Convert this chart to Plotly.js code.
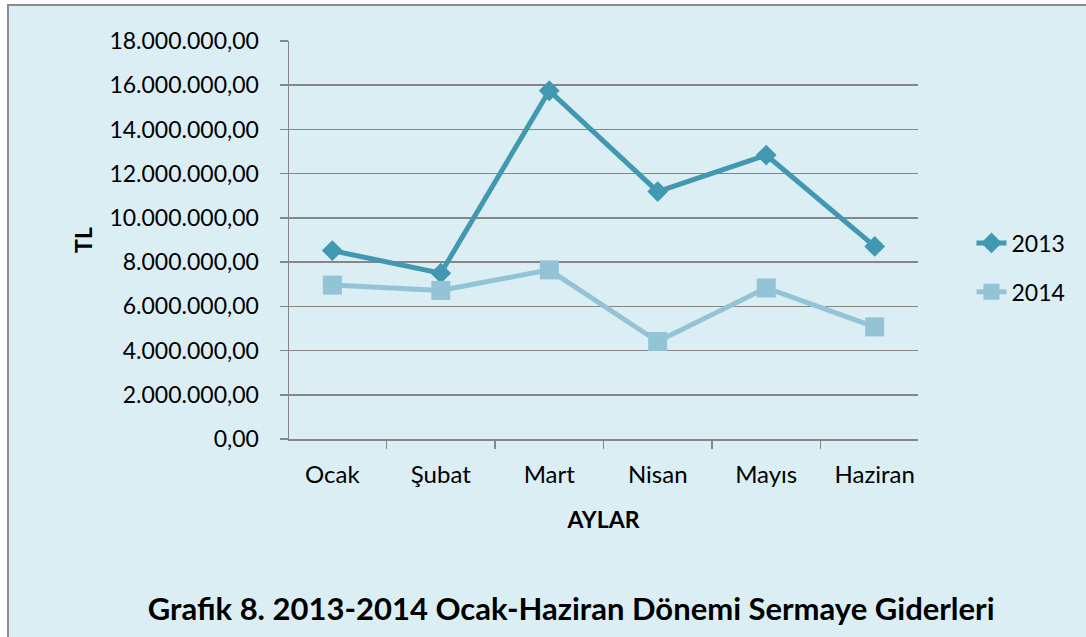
<!DOCTYPE html>
<html>
<head>
<meta charset="utf-8">
<script src="https://cdn.plot.ly/plotly-3.0.1.min.js"></script>
<style>
  html, body { margin: 0; padding: 0; background: #ffffff; width: 1086px; height: 637px; overflow: hidden; }
  #wrap { position: absolute; left: 7px; top: 4px; border-left: 2px solid #8c8c8c; border-top: 2px solid #8c8c8c; }
  #chart { width: 1077px; height: 631px; }
</style>
</head>
<body>
<div id="wrap"><div id="chart"></div></div>
<script>
const months = ["Ocak", "Şubat", "Mart", "Nisan", "Mayıs", "Haziran"];
const values2013 = [8520000, 7500000, 15750000, 11190000, 12840000, 8710000];
const values2014 = [6960000, 6720000, 7650000, 4410000, 6830000, 5070000];
const yTickVals = [0, 2000000, 4000000, 6000000, 8000000, 10000000, 12000000, 14000000, 16000000, 18000000];
const yTickText = ["0,00", "2.000.000,00", "4.000.000,00", "6.000.000,00", "8.000.000,00", "10.000.000,00", "12.000.000,00", "14.000.000,00", "16.000.000,00", "18.000.000,00"];

const FONT = "Lato, 'Open Sans', sans-serif";

const traces = [
  {
    x: months, y: values2013, name: "2013", type: "scatter", mode: "lines+markers",
    line: { color: "#4298B0", width: 5 },
    marker: { symbol: "diamond", size: 16, color: "#4298B0" },
    legendgroup: "a"
  },
  {
    x: months, y: values2014, name: "2014", type: "scatter", mode: "lines+markers",
    line: { color: "#93C4D5", width: 5 },
    marker: { symbol: "square", size: 19, color: "#93C4D5" },
    legendgroup: "b"
  }
];

const layout = {
  width: 1077, height: 631,
  margin: { l: 280, r: 168, t: 35, b: 198 },
  paper_bgcolor: "#DBEEF4",
  plot_bgcolor: "#DBEEF4",
  font: { family: FONT, size: 23, color: "#000000" },
  showlegend: true,
  legend: {
    x: 1.085, xanchor: "left", y: 0.431, yanchor: "middle",
    bgcolor: "rgba(0,0,0,0)", font: { family: FONT, size: 23 },
    traceorder: "grouped", tracegroupgap: 16
  },
  title: {
    text: "<b>Grafik 8. 2013-2014 Ocak-Haziran Dönemi Sermaye Giderleri</b>",
    font: { family: FONT, size: 31, color: "#000000" },
    xref: "container", yref: "container",
    x: 0.522, xanchor: "center", y: 0.044, yanchor: "middle"
  },
  xaxis: {
    type: "category",
    tickson: "boundaries",
    ticks: "outside", ticklen: 8, tickcolor: "#868686", tickwidth: 1.5,
    showline: true, linecolor: "#868686", linewidth: 1.5,
    showgrid: false, zeroline: false,
    tickfont: { family: FONT, size: 24 },
    ticklabelstandoff: 14,
    title: { text: "<b>AYLAR</b>", font: { family: FONT, size: 23 }, standoff: 24 },
    fixedrange: true
  },
  yaxis: {
    range: [0, 18000000],
    tickvals: yTickVals, ticktext: yTickText,
    ticks: "outside", ticklen: 8, tickcolor: "#868686", tickwidth: 1.5,
    showline: true, linecolor: "#868686", linewidth: 1.5,
    showgrid: true, gridcolor: "#868686", gridwidth: 1.5,
    zeroline: false,
    tickfont: { family: FONT, size: 23 },
    ticklabelstandoff: 16,
    title: { text: "<b>TL</b>", font: { family: FONT, size: 23 }, standoff: 10 },
    fixedrange: true
  }
};

Plotly.newPlot("chart", traces, layout, { displayModeBar: false, staticPlot: true });
</script>
</body>
</html>
